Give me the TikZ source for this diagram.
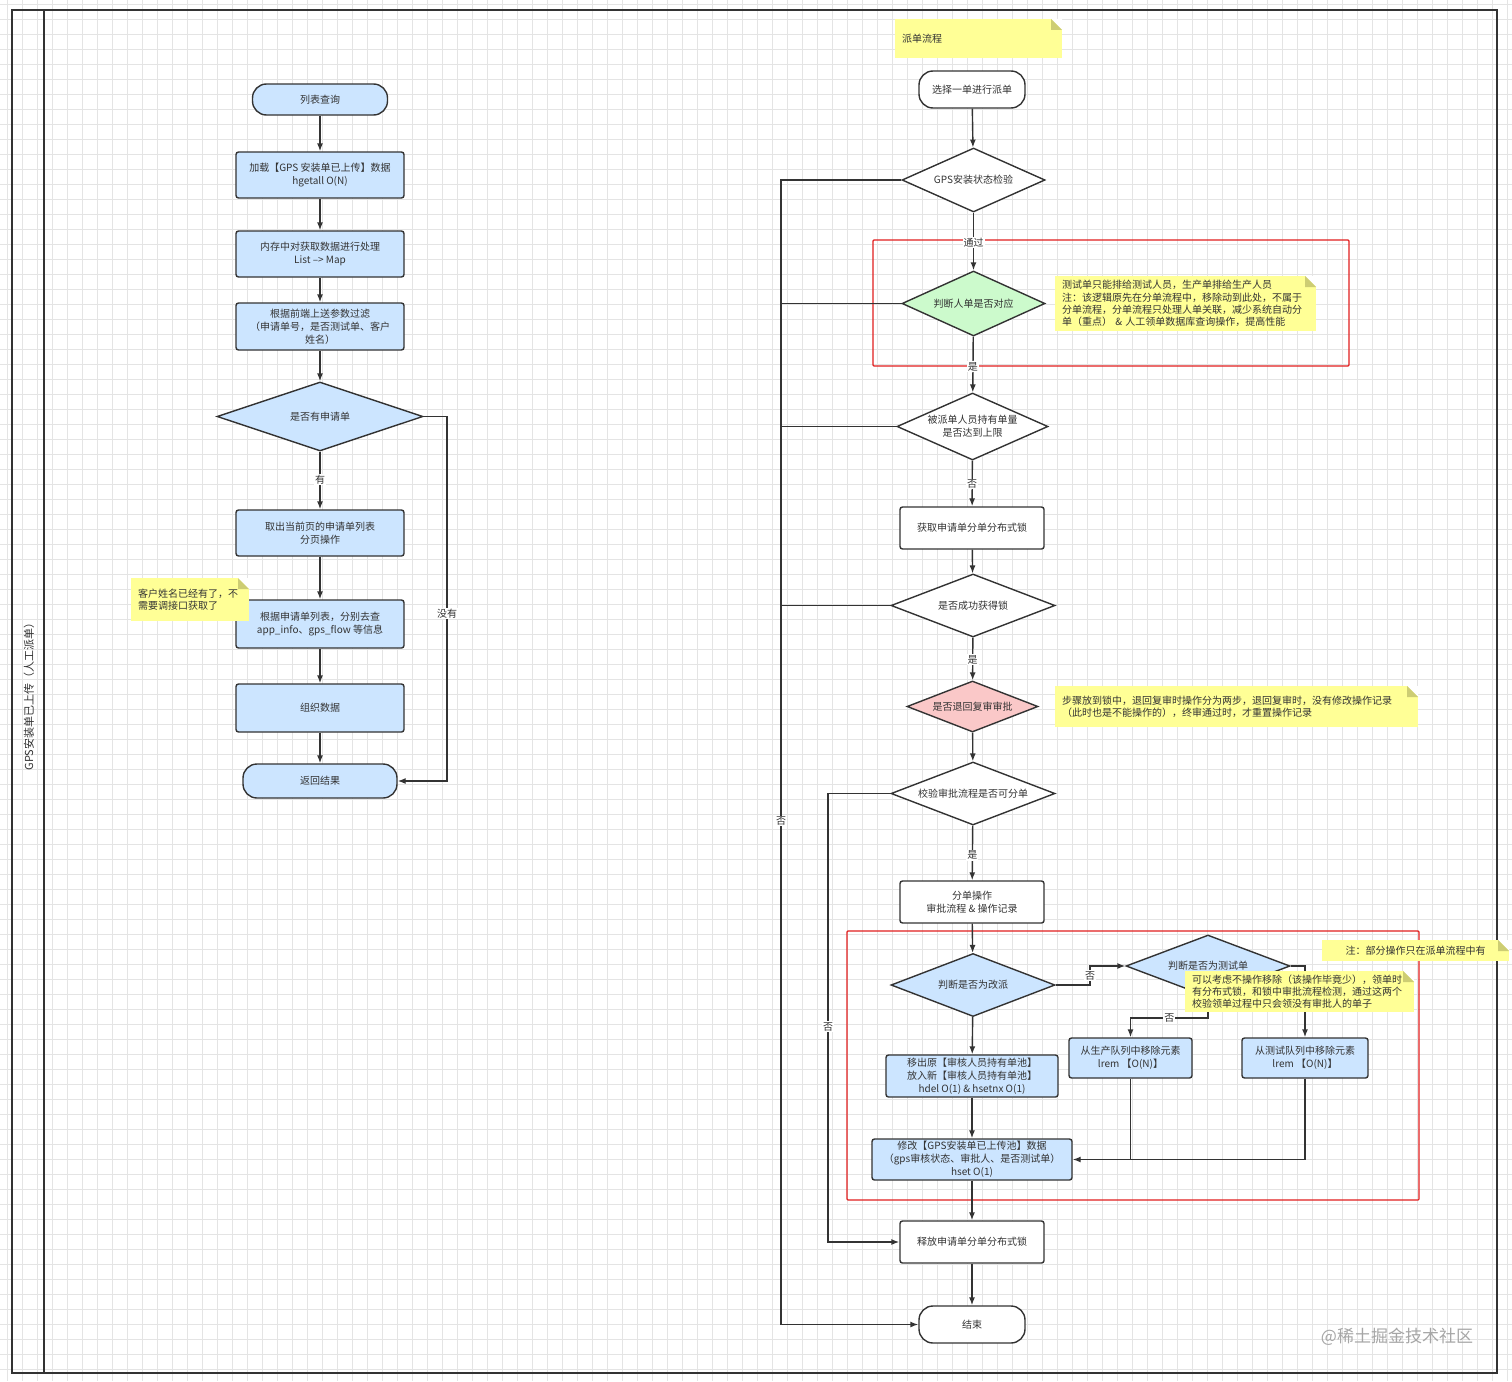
\documentclass[tikz,border=0pt]{standalone}
\usepackage{fontspec}
\setmainfont{Noto Sans CJK SC}
\usetikzlibrary{shapes.geometric,arrows.meta}
\definecolor{bluef}{RGB}{204,229,255}
\definecolor{greenf}{RGB}{204,250,204}
\definecolor{pinkf}{RGB}{250,200,200}
\definecolor{notey}{RGB}{255,255,150}
\definecolor{notefold}{RGB}{205,205,115}
\definecolor{edgec}{RGB}{51,51,51}
\definecolor{txt}{RGB}{51,51,51}
\definecolor{redb}{RGB}{225,30,30}
\definecolor{gridc}{RGB}{228,228,228}
\begin{document}
\begin{tikzpicture}[x=1pt,y=-1pt, font=\fontsize{10}{13}\selectfont, text=txt,
 base/.style={draw=edgec, line width=1.4pt, align=center, inner sep=2pt},
 proc/.style={base, rectangle, rounded corners=2.5pt},
 term/.style={base, rectangle, rounded corners=14pt},
 dia/.style={base, diamond, inner sep=0pt},
 arr/.style={draw=edgec, line width=1.4pt, -{Latex[length=8pt,width=6pt]}},
 ln/.style={draw=edgec, line width=1.4pt},
 lab/.style={fill=white, inner sep=1pt, text=txt},
 grp/.style={draw=redb, line width=1.1pt, rounded corners=1pt, inner sep=0pt},
 note/.style={fill=notey, align=left, inner ysep=0pt, inner xsep=7pt,
   font=\fontsize{10}{12.2}\selectfont,
   path picture={
     \fill[white] ([xshift=-11pt]path picture bounding box.north east) -- (path picture bounding box.north east) -- ([yshift=-11pt]path picture bounding box.north east) -- cycle;
     \fill[notefold] ([xshift=-11pt]path picture bounding box.north east) -- ([xshift=-11pt,yshift=-11pt]path picture bounding box.north east) -- ([yshift=-11pt]path picture bounding box.north east) -- cycle;}}
]
\useasboundingbox (0,0) rectangle (1512,1381);
\fill[white] (0,0) rectangle (1512,1381);
\foreach \i in {7,22,...,1512} \draw[gridc, line width=0.8pt] (\i,0) -- (\i,1381);
\foreach \j in {4,19,...,1381} \draw[gridc, line width=0.8pt] (0,\j) -- (1512,\j);

% frame and lane
\draw[edgec, line width=1.4pt] (12,10) rectangle (1497,1373);
\draw[edgec, line width=1.4pt] (44,10) -- (44,1373);
\node[rotate=90, font=\fontsize{11}{13}\selectfont] (lane) at (29,694) {GPS安装单已上传（人工派单）};

% ---------------- left column ----------------
\node[term, fill=bluef, minimum width=135pt, minimum height=31pt] (l1) at (320,99.5) {列表查询};
\node[proc, fill=bluef, minimum width=168pt, minimum height=46pt] (l2) at (320,175) {加载【GPS 安装单已上传】数据\\hgetall O(N)};
\node[proc, fill=bluef, minimum width=168pt, minimum height=46pt] (l3) at (320,254) {内存中对获取数据进行处理\\List –> Map};
\node[proc, fill=bluef, minimum width=168pt, minimum height=47pt] (l4) at (320,326.5) {根据前端上送参数过滤\\（申请单号，是否测试单、客户\\姓名）};
\node[dia, fill=bluef, shape aspect=3, minimum width=206pt, minimum height=69pt] (ld) at (320,416.5) {是否有申请单};
\node[proc, fill=bluef, minimum width=168pt, minimum height=46pt] (l5) at (320,533) {取出当前页的申请单列表\\分页操作};
\node[proc, fill=bluef, minimum width=168pt, minimum height=48pt] (l6) at (320,624) {根据申请单列表，分别去查\\app\_info、gps\_flow 等信息};
\node[proc, fill=bluef, minimum width=168pt, minimum height=48pt] (l7) at (320,708) {组织数据};
\node[term, fill=bluef, minimum width=154pt, minimum height=34pt] (l8) at (320,781) {返回结果};
\node[note, text width=104pt, minimum height=43pt] (ln) at (190,599.5) {客户姓名已经有了，不\\需要调接口获取了};

\draw[arr] (l1) -- (l2);
\draw[arr] (l2) -- (l3);
\draw[arr] (l3) -- (l4);
\draw[arr] (l4) -- (ld);
\draw[arr] (ld) -- node[lab, pos=0.48] {有} (l5);
\draw[arr] (l5) -- (l6);
\draw[arr] (l6) -- (l7);
\draw[arr] (l7) -- (l8);
\coordinate (c1) at (447,416.5);
\draw[arr] (ld.east) -- (c1) |- node[lab, pos=0.27] {没有} (l8.east);

% ---------------- right column ----------------
\node[note, text width=153pt, minimum height=39pt] (rn0) at (978.5,38.5) {派单流程};
\node[term, fill=white, minimum width=106pt, minimum height=37pt] (r1) at (972,89.5) {选择一单进行派单};
\node[dia, fill=white, shape aspect=2.23, minimum width=143pt, minimum height=64pt] (r2) at (973.5,180) {GPS安装状态检验};
\node[grp, minimum width=476pt, minimum height=126pt] (g1) at (1111,303) {};
\node[dia, fill=greenf, shape aspect=2.2, minimum width=143pt, minimum height=65pt] (r3) at (973.5,303.5) {判断人单是否对应};
\node[note, text width=247pt, minimum height=55pt] (rn1) at (1185.5,303.5) {测试单只能排给测试人员，生产单排给生产人员\\注：该逻辑原先在分单流程中，移除动到此处，不属于\\分单流程，分单流程只处理人单关联，减少系统自动分\\单（重点） \& 人工领单数据库查询操作，提高性能};
\node[dia, fill=white, shape aspect=2.25, minimum width=151pt, minimum height=67pt] (r4) at (972.5,426.5) {被派单人员持有单量\\是否达到上限};
\node[proc, fill=white, minimum width=144pt, minimum height=42pt] (r5) at (972,528) {获取申请单分单分布式锁};
\node[dia, fill=white, shape aspect=2.6, minimum width=164pt, minimum height=63pt] (r6) at (973,605.5) {是否成功获得锁};
\node[dia, fill=pinkf, shape aspect=2.57, minimum width=131pt, minimum height=51pt] (r7) at (972.5,706.5) {是否退回复审审批};
\node[note, text width=349pt, minimum height=41pt] (rn2) at (1236.5,706.5) {步骤放到锁中，退回复审时操作分为两步，退回复审时，没有修改操作记录\\（此时也是不能操作的），终审通过时，才重置操作记录};
\node[dia, fill=white, shape aspect=2.6, minimum width=164pt, minimum height=63pt] (r8) at (973,793.5) {校验审批流程是否可分单};
\node[proc, fill=white, minimum width=144pt, minimum height=42pt] (r9) at (972,902) {分单操作\\审批流程 \& 操作记录};
\node[grp, minimum width=572pt, minimum height=269pt] (g2) at (1133,1065.5) {};
\node[dia, fill=bluef, shape aspect=2.6, minimum width=164pt, minimum height=63pt] (r10) at (973,985) {判断是否为改派};
\node[dia, fill=bluef, shape aspect=2.6, minimum width=164pt, minimum height=62pt] (r11) at (1208,966) {判断是否为测试单};
\node[proc, fill=bluef, minimum width=123pt, minimum height=40pt] (r12) at (1130.5,1058) {从生产队列中移除元素\\lrem 【O(N)】};
\node[proc, fill=bluef, minimum width=126pt, minimum height=40pt] (r13) at (1305,1058) {从测试队列中移除元素\\lrem 【O(N)】};
\node[proc, fill=bluef, minimum width=172pt, minimum height=42pt] (r14) at (972,1076) {移出原【审核人员持有单池】\\放入新【审核人员持有单池】\\hdel O(1) \& hsetnx O(1)};
\node[proc, fill=bluef, minimum width=200pt, minimum height=41pt] (r15) at (972,1159.5) {修改【GPS安装单已上传池】数据\\（gps审核状态、审批人、是否测试单）\\hset O(1)};
\node[proc, fill=white, minimum width=144pt, minimum height=42pt] (r16) at (972,1242) {释放申请单分单分布式锁};
\node[term, fill=white, minimum width=106pt, minimum height=37pt] (r17) at (972,1324.5) {结束};

\draw[arr] (r1) -- (r2);
\draw[arr] (r2) -- node[lab, pos=0.52] {通过} (r3);
\draw[arr] (r3) -- node[lab, pos=0.54] {是} (r4);
\draw[arr] (r4) -- node[lab, pos=0.51] {否} (r5);
\draw[arr] (r5) -- (r6);
\draw[arr] (r6) -- node[lab, pos=0.52] {是} (r7);
\draw[arr] (r7) -- (r8);
\draw[arr] (r8) -- node[lab, pos=0.54] {是} (r9);
\draw[arr] (r9) -- (r10);
\draw[arr] (r10) -- (r14);
\draw[arr] (r14) -- (r15);
\draw[arr] (r15) -- (r16);
\draw[arr] (r16) -- (r17);

% left return lines
\coordinate (o1) at (781,180);
\draw[arr] (r2.west) -- (o1) |- node[lab, pos=0.28] {否} (r17.west);
\draw[ln] (r3.west) -- (r3.west -| o1);
\draw[ln] (r4.west) -- (r4.west -| o1);
\draw[ln] (r6.west) -- (r6.west -| o1);
\coordinate (o2) at (828,793.5);
\draw[arr] (r8.west) -- (o2) |- node[lab, pos=0.26] {否} (r16.west);

% inner group connectors
\coordinate (c3) at (1090,985);
\draw[arr] (r10.east) -- (c3) |- node[lab, pos=0.25] {否} (r11.west);
\coordinate (c4) at (1208,1018);
\draw[arr] (r11.south) -- (c4) -| node[lab, pos=0.25] {否} (r12.north);
\draw[arr] (r11.east) -| (r13.north);
\draw[arr] (r12.south) |- (r15.east);
\draw[ln] (r13.south) |- (r12.south |- r15.east);

% notes drawn on top
\node[note, text width=215pt, minimum height=41pt] (rn3) at (1299.5,991.5) {可以考虑不操作移除（该操作毕竟少），领单时\\有分布式锁，和锁中审批流程检测，通过这两个\\校验领单过程中只会领没有审批人的单子};
\node[note, text width=173pt, minimum height=21pt, inner xsep=7pt, align=center] (rn4) at (1415.5,950.5) {注：部分操作只在派单流程中有};

% watermark
\node[text=black!35, font=\fontsize{17}{20}\selectfont] (wm) at (1397,1337) {@稀土掘金技术社区};
\end{tikzpicture}
\end{document}
